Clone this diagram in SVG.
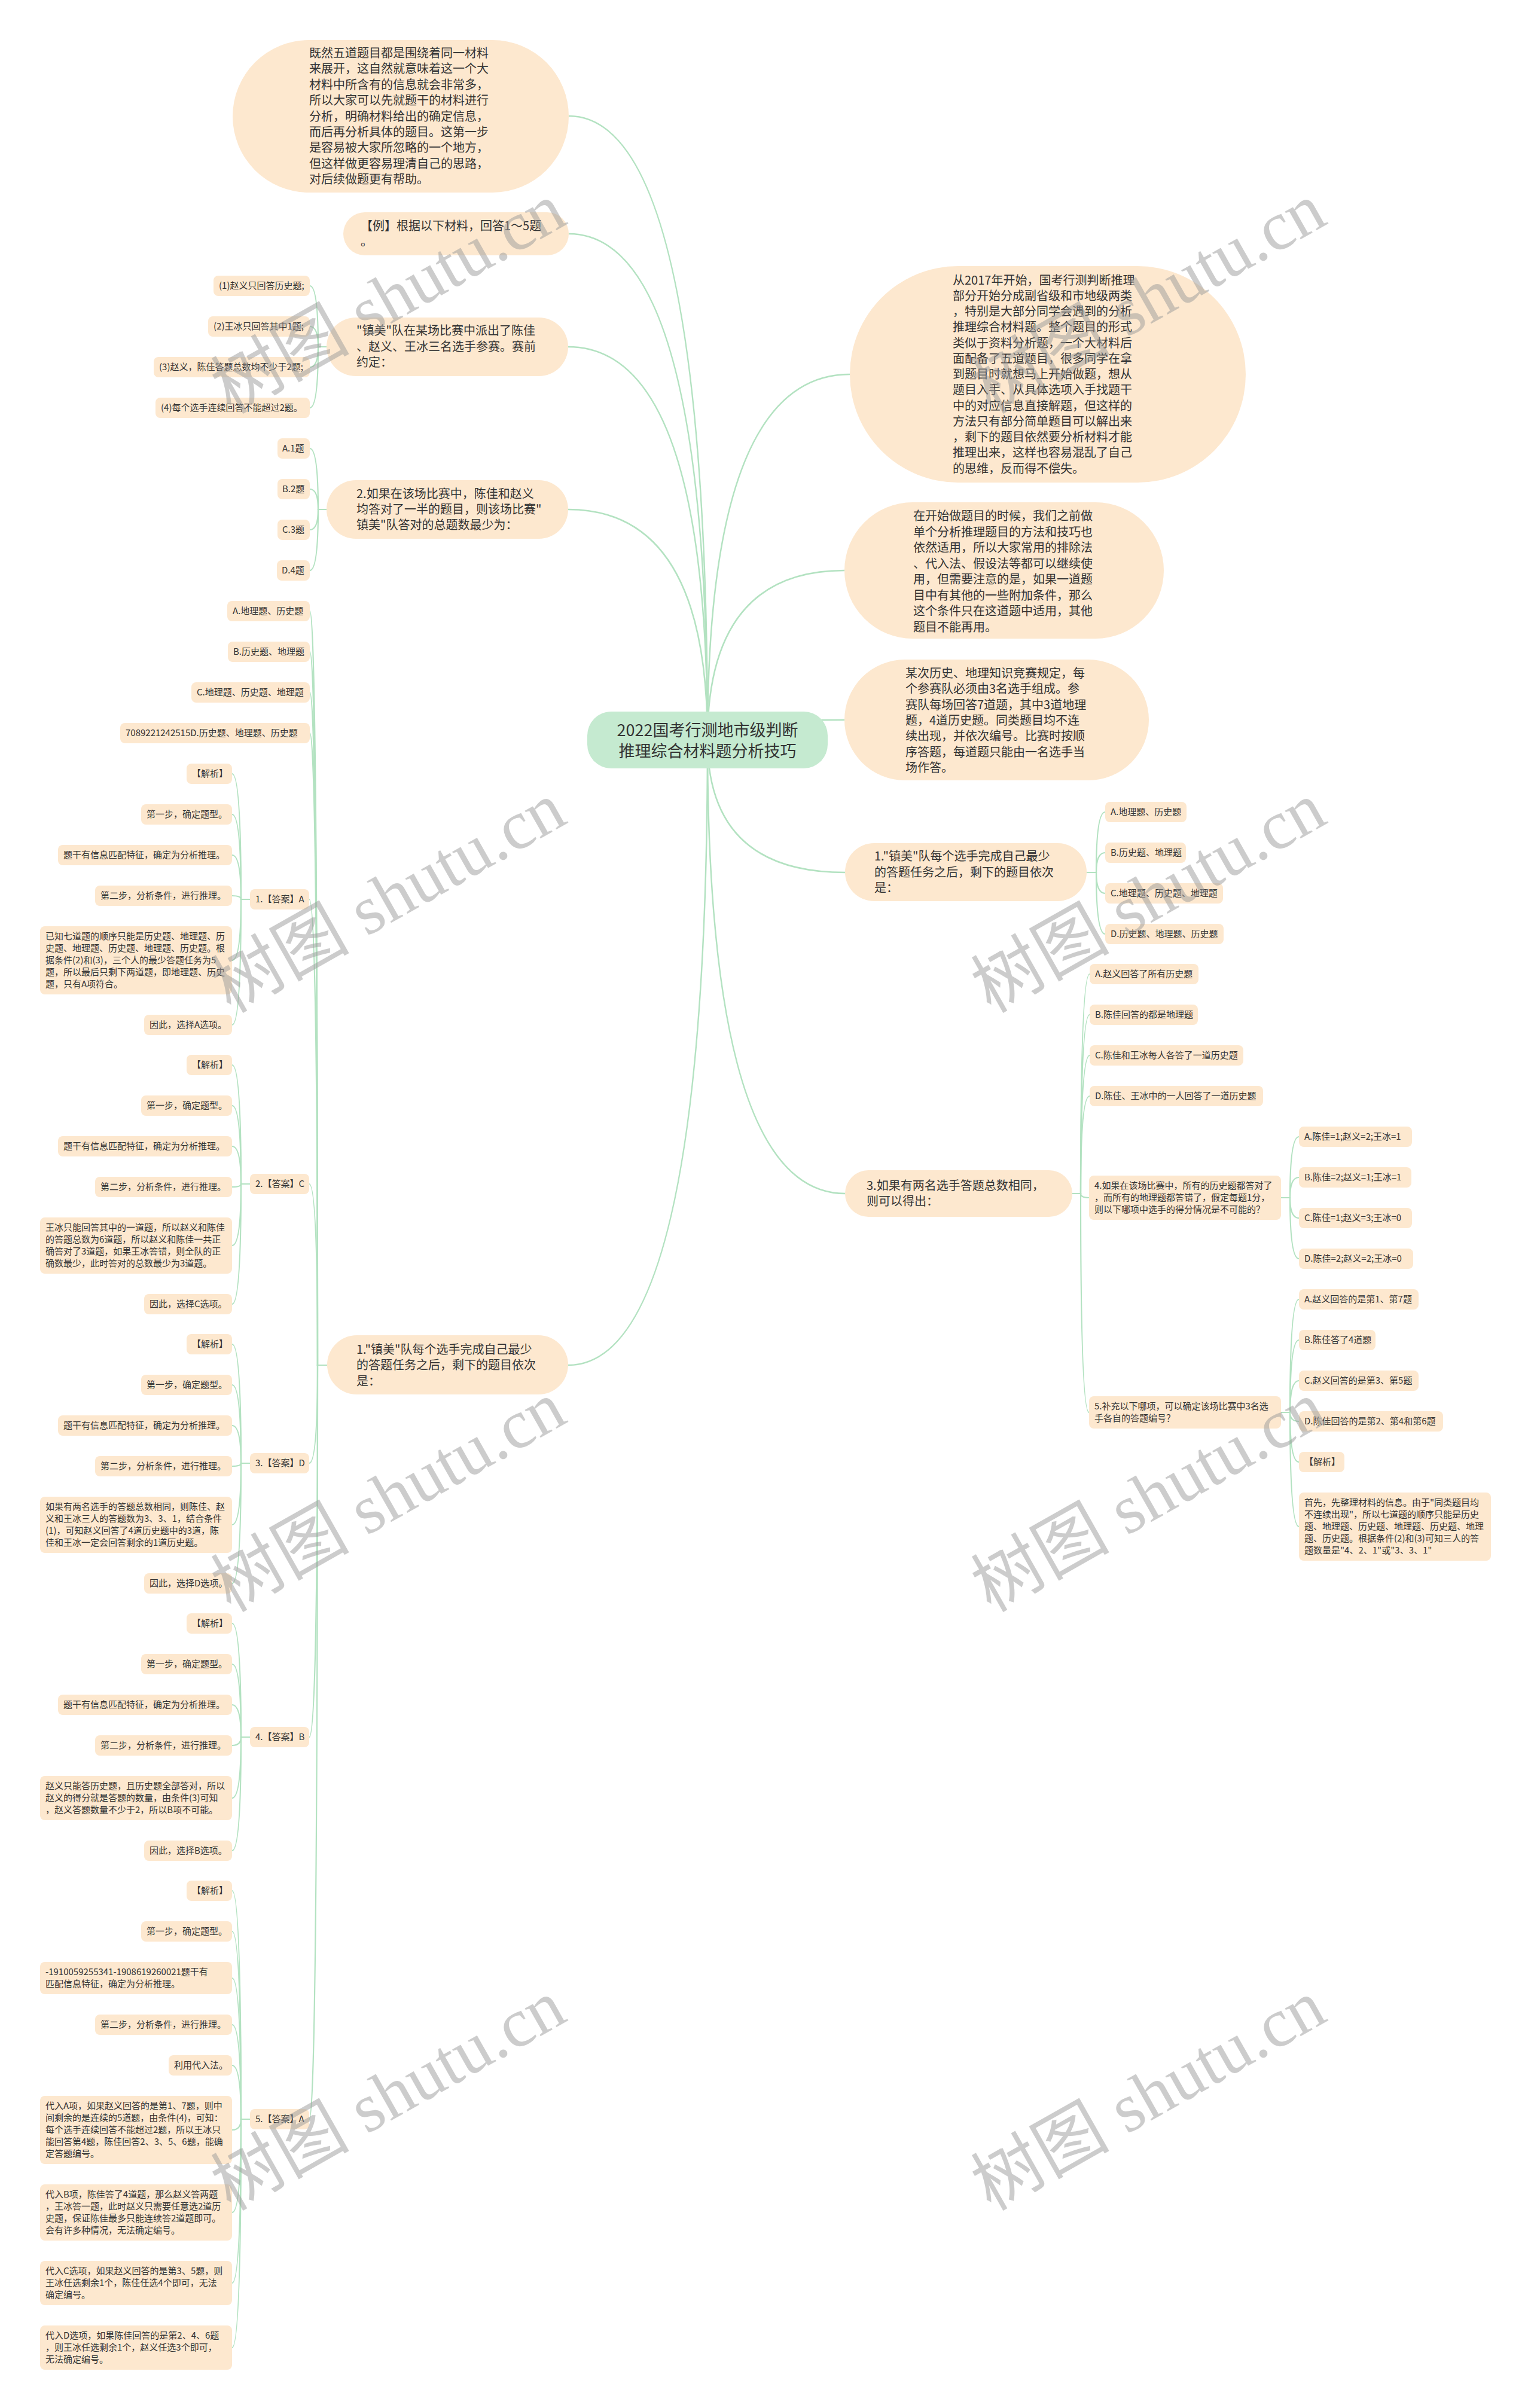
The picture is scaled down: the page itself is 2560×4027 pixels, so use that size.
<svg xmlns="http://www.w3.org/2000/svg" width="2560" height="4027" viewBox="0 0 2560 4027">
<style>
.ln{fill:none;stroke:#b3e2c1;stroke-width:2.2}
.ln0{fill:none;stroke:#b3e2c1;stroke-width:2.5}
.n1{fill:#fde8cf}
.lf{fill:#fde8cf}
.ct{fill:#c5ead0}
text{font-family:"Noto Sans CJK SC","Noto Sans",sans-serif;fill:#333333}
.t0{font-size:27px}
.t1{font-size:20px}
.t2{font-size:15px}
.wm{font-family:"Liberation Serif","Noto Sans CJK SC",serif;font-size:116px;fill:#9a9a9a;fill-opacity:0.5}
</style>
<rect x="0" y="0" width="2560" height="4027" fill="#ffffff"/>

<g id="connectors">
<path class="ln0" d="M1183,1237 Q1183,194 951,194"/>
<path class="ln0" d="M1183,1237 Q1183,391 951,391"/>
<path class="ln0" d="M1183,1237 Q1183,580 950,580"/>
<path class="ln0" d="M1183,1237 Q1183,852 950,852"/>
<path class="ln0" d="M1183,1237 Q1183,2283 950,2283"/>
<path class="ln0" d="M1183,1237 Q1183,626 1421,626"/>
<path class="ln0" d="M1183,1237 Q1183,954 1412,954"/>
<path class="ln0" d="M1183,1237 Q1183,1204 1412,1204"/>
<path class="ln0" d="M1183,1237 Q1183,1459 1413,1459"/>
<path class="ln0" d="M1183,1237 Q1183,1996 1413,1996"/>
<path class="ln" d="M546,580 H532 Q532,478 518,478"/>
<path class="ln" d="M546,580 H532 Q532,546 518,546"/>
<path class="ln" d="M546,580 H532 Q532,614 518,614"/>
<path class="ln" d="M546,580 H532 Q532,682 518,682"/>
<path class="ln" d="M546,852 H532 Q532,750 518,750"/>
<path class="ln" d="M546,852 H532 Q532,818 518,818"/>
<path class="ln" d="M546,852 H532 Q532,886 518,886"/>
<path class="ln" d="M546,852 H532 Q532,954 518,954"/>
<path class="ln" d="M547,2283 H531 Q531,1022 518,1022"/>
<path class="ln" d="M547,2283 H531 Q531,1090 518,1090"/>
<path class="ln" d="M547,2283 H531 Q531,1158 518,1158"/>
<path class="ln" d="M547,2283 H531 Q531,1226 518,1226"/>
<path class="ln" d="M547,2283 H531 Q531,1504 517,1504"/>
<path class="ln" d="M547,2283 H531 Q531,1980 517,1980"/>
<path class="ln" d="M547,2283 H531 Q531,2447 517,2447"/>
<path class="ln" d="M547,2283 H531 Q531,2905 517,2905"/>
<path class="ln" d="M547,2283 H531 Q531,3544 517,3544"/>
<path class="ln" d="M418,1504 H403 Q403,1294 388,1294"/>
<path class="ln" d="M418,1504 H403 Q403,1362 388,1362"/>
<path class="ln" d="M418,1504 H403 Q403,1430 388,1430"/>
<path class="ln" d="M418,1504 H403 Q403,1498 388,1498"/>
<path class="ln" d="M418,1504 H403 Q403,1606 388,1606"/>
<path class="ln" d="M418,1504 H403 Q403,1714 388,1714"/>
<path class="ln" d="M418,1980 H403 Q403,1781 388,1781"/>
<path class="ln" d="M418,1980 H403 Q403,1849 388,1849"/>
<path class="ln" d="M418,1980 H403 Q403,1917 388,1917"/>
<path class="ln" d="M418,1980 H403 Q403,1985 388,1985"/>
<path class="ln" d="M418,1980 H403 Q403,2083 388,2083"/>
<path class="ln" d="M418,1980 H403 Q403,2181 388,2181"/>
<path class="ln" d="M418,2447 H403 Q403,2248 388,2248"/>
<path class="ln" d="M418,2447 H403 Q403,2316 388,2316"/>
<path class="ln" d="M418,2447 H403 Q403,2384 388,2384"/>
<path class="ln" d="M418,2447 H403 Q403,2452 388,2452"/>
<path class="ln" d="M418,2447 H403 Q403,2550 388,2550"/>
<path class="ln" d="M418,2447 H403 Q403,2648 388,2648"/>
<path class="ln" d="M418,2905 H403 Q403,2715 388,2715"/>
<path class="ln" d="M418,2905 H403 Q403,2783 388,2783"/>
<path class="ln" d="M418,2905 H403 Q403,2851 388,2851"/>
<path class="ln" d="M418,2905 H403 Q403,2919 388,2919"/>
<path class="ln" d="M418,2905 H403 Q403,3007 388,3007"/>
<path class="ln" d="M418,2905 H403 Q403,3095 388,3095"/>
<path class="ln" d="M418,3544 H403 Q403,3162 388,3162"/>
<path class="ln" d="M418,3544 H403 Q403,3230 388,3230"/>
<path class="ln" d="M418,3544 H403 Q403,3308 388,3308"/>
<path class="ln" d="M418,3544 H403 Q403,3386 388,3386"/>
<path class="ln" d="M418,3544 H403 Q403,3454 388,3454"/>
<path class="ln" d="M418,3544 H403 Q403,3562 388,3562"/>
<path class="ln" d="M418,3544 H403 Q403,3700 388,3700"/>
<path class="ln" d="M418,3544 H403 Q403,3818 388,3818"/>
<path class="ln" d="M418,3544 H403 Q403,3926 388,3926"/>
<path class="ln" d="M1817,1459 H1833 Q1833,1358 1848,1358"/>
<path class="ln" d="M1817,1459 H1833 Q1833,1426 1848,1426"/>
<path class="ln" d="M1817,1459 H1833 Q1833,1494 1848,1494"/>
<path class="ln" d="M1817,1459 H1833 Q1833,1562 1848,1562"/>
<path class="ln" d="M1793,1996 H1807 Q1807,1629 1822,1629"/>
<path class="ln" d="M1793,1996 H1807 Q1807,1697 1822,1697"/>
<path class="ln" d="M1793,1996 H1807 Q1807,1765 1822,1765"/>
<path class="ln" d="M1793,1996 H1807 Q1807,1833 1822,1833"/>
<path class="ln" d="M1793,1996 H1807 Q1807,2003 1821,2003"/>
<path class="ln" d="M1793,1996 H1807 Q1807,2362 1821,2362"/>
<path class="ln" d="M2142,2003 H2157 Q2157,1901 2172,1901"/>
<path class="ln" d="M2142,2003 H2157 Q2157,1969 2172,1969"/>
<path class="ln" d="M2142,2003 H2157 Q2157,2037 2172,2037"/>
<path class="ln" d="M2142,2003 H2157 Q2157,2105 2172,2105"/>
<path class="ln" d="M2142,2362 H2157 Q2157,2173 2172,2173"/>
<path class="ln" d="M2142,2362 H2157 Q2157,2241 2172,2241"/>
<path class="ln" d="M2142,2362 H2157 Q2157,2309 2172,2309"/>
<path class="ln" d="M2142,2362 H2157 Q2157,2377 2172,2377"/>
<path class="ln" d="M2142,2362 H2157 Q2157,2445 2172,2445"/>
<path class="ln" d="M2142,2362 H2157 Q2157,2553 2172,2553"/>
</g>

<g id="root">
<rect class="ct" x="982" y="1190" width="402" height="95" rx="40"/>
<text class="t0" x="1183" y="1231" text-anchor="middle">2022国考行测地市级判断</text>
<text class="t0" x="1183" y="1266" text-anchor="middle">推理综合材料题分析技巧</text>
</g>

<g id="n-note">
<rect class="n1" x="389" y="67" width="562" height="255" rx="127.5"/>
<text class="t1"><tspan x="517" y="96">既然五道题目都是围绕着同一材料</tspan><tspan x="517" y="122.4">来展开，这自然就意味着这一个大</tspan><tspan x="517" y="148.8">材料中所含有的信息就会非常多，</tspan><tspan x="517" y="175.2">所以大家可以先就题干的材料进行</tspan><tspan x="517" y="201.6">分析，明确材料给出的确定信息，</tspan><tspan x="517" y="228">而后再分析具体的题目。这第一步</tspan><tspan x="517" y="254.4">是容易被大家所忽略的一个地方，</tspan><tspan x="517" y="280.8">但这样做更容易理清自己的思路，</tspan><tspan x="517" y="307.2">对后续做题更有帮助。</tspan></text>
</g>

<g id="n-example">
<rect class="n1" x="574" y="355" width="377" height="72" rx="36"/>
<text class="t1"><tspan x="603" y="385">【例】根据以下材料，回答1～5题</tspan><tspan x="603" y="411">。</tspan></text>
</g>

<g id="n-rules">
<rect class="n1" x="546" y="531" width="404" height="98" rx="49"/>
<text class="t1"><tspan x="596" y="560">"镇美"队在某场比赛中派出了陈佳</tspan><tspan x="596" y="587">、赵义、王冰三名选手参赛。赛前</tspan><tspan x="596" y="613">约定：</tspan></text>
</g>
<g id="n-rule1"><rect class="lf" x="357" y="461" width="161" height="34" rx="8"/><text class="t2" x="366" y="483">(1)赵义只回答历史题;</text></g>
<g id="n-rule2"><rect class="lf" x="348" y="529" width="170" height="34" rx="8"/><text class="t2" x="357" y="551">(2)王冰只回答其中1题;</text></g>
<g id="n-rule3"><rect class="lf" x="257" y="597" width="261" height="34" rx="8"/><text class="t2" x="266" y="619">(3)赵义，陈佳答题总数均不少于2题;</text></g>
<g id="n-rule4"><rect class="lf" x="260" y="665" width="258" height="34" rx="8"/><text class="t2" x="269" y="687">(4)每个选手连续回答不能超过2题。</text></g>

<g id="n-q2">
<rect class="n1" x="546" y="803" width="404" height="98" rx="49"/>
<text class="t1"><tspan x="596" y="833">2.如果在该场比赛中，陈佳和赵义</tspan><tspan x="596" y="859">均答对了一半的题目，则该场比赛"</tspan><tspan x="596" y="885">镇美"队答对的总题数最少为：</tspan></text>
</g>
<g id="n-q2a"><rect class="lf" x="464" y="733" width="54" height="34" rx="8"/><text class="t2" x="472" y="755">A.1题</text></g>
<g id="n-q2b"><rect class="lf" x="464" y="801" width="54" height="34" rx="8"/><text class="t2" x="472" y="823">B.2题</text></g>
<g id="n-q2c"><rect class="lf" x="464" y="869" width="54" height="34" rx="8"/><text class="t2" x="472" y="891">C.3题</text></g>
<g id="n-q2d"><rect class="lf" x="463" y="937" width="55" height="34" rx="8"/><text class="t2" x="471" y="959">D.4题</text></g>

<g id="n-q1l">
<rect class="n1" x="547" y="2233" width="403" height="99" rx="49.5"/>
<text class="t1"><tspan x="596" y="2264">1."镇美"队每个选手完成自己最少</tspan><tspan x="596" y="2290">的答题任务之后，剩下的题目依次</tspan><tspan x="596" y="2317">是：</tspan></text>
</g>
<g id="n-q1la"><rect class="lf" x="380" y="1005" width="138" height="34" rx="8"/><text class="t2" x="389" y="1027">A.地理题、历史题</text></g>
<g id="n-q1lb"><rect class="lf" x="381" y="1073" width="137" height="34" rx="8"/><text class="t2" x="390" y="1095">B.历史题、地理题</text></g>
<g id="n-q1lc"><rect class="lf" x="320" y="1141" width="198" height="34" rx="8"/><text class="t2" x="329" y="1163">C.地理题、历史题、地理题</text></g>
<g id="n-q1ld"><rect class="lf" x="201" y="1209" width="317" height="34" rx="8"/><text class="t2" x="210" y="1231">7089221242515D.历史题、地理题、历史题</text></g>

<g id="n-ans1"><rect class="lf" x="418" y="1487" width="99" height="34" rx="8"/><text class="t2" x="427" y="1509">1.【答案】A</text></g>
<g id="n-a1-1"><rect class="lf" x="312" y="1277" width="76" height="34" rx="8"/><text class="t2" x="321" y="1299">【解析】</text></g>
<g id="n-a1-2"><rect class="lf" x="236" y="1345" width="152" height="34" rx="8"/><text class="t2" x="245" y="1367">第一步，确定题型。</text></g>
<g id="n-a1-3"><rect class="lf" x="97" y="1413" width="291" height="34" rx="8"/><text class="t2" x="106" y="1435">题干有信息匹配特征，确定为分析推理。</text></g>
<g id="n-a1-4"><rect class="lf" x="159" y="1481" width="229" height="34" rx="8"/><text class="t2" x="168" y="1503">第二步，分析条件，进行推理。</text></g>
<g id="n-a1-5"><rect class="lf" x="67" y="1549" width="321" height="114" rx="8"/><text class="t2"><tspan x="76" y="1571">已知七道题的顺序只能是历史题、地理题、历</tspan><tspan x="76" y="1591">史题、地理题、历史题、地理题、历史题。根</tspan><tspan x="76" y="1611">据条件(2)和(3)，三个人的最少答题任务为5</tspan><tspan x="76" y="1631">题，所以最后只剩下两道题，即地理题、历史</tspan><tspan x="76" y="1651">题，只有A项符合。</tspan></text></g>
<g id="n-a1-6"><rect class="lf" x="241" y="1697" width="147" height="34" rx="8"/><text class="t2" x="250" y="1719">因此，选择A选项。</text></g>

<g id="n-ans2"><rect class="lf" x="418" y="1963" width="99" height="34" rx="8"/><text class="t2" x="427" y="1985">2.【答案】C</text></g>
<g id="n-a2-1"><rect class="lf" x="312" y="1764" width="76" height="34" rx="8"/><text class="t2" x="321" y="1786">【解析】</text></g>
<g id="n-a2-2"><rect class="lf" x="236" y="1832" width="152" height="34" rx="8"/><text class="t2" x="245" y="1854">第一步，确定题型。</text></g>
<g id="n-a2-3"><rect class="lf" x="97" y="1900" width="291" height="34" rx="8"/><text class="t2" x="106" y="1922">题干有信息匹配特征，确定为分析推理。</text></g>
<g id="n-a2-4"><rect class="lf" x="159" y="1968" width="229" height="34" rx="8"/><text class="t2" x="168" y="1990">第二步，分析条件，进行推理。</text></g>
<g id="n-a2-5"><rect class="lf" x="67" y="2036" width="321" height="94" rx="8"/><text class="t2"><tspan x="76" y="2058">王冰只能回答其中的一道题，所以赵义和陈佳</tspan><tspan x="76" y="2078">的答题总数为6道题，所以赵义和陈佳一共正</tspan><tspan x="76" y="2098">确答对了3道题，如果王冰答错，则全队的正</tspan><tspan x="76" y="2118">确数最少，此时答对的总数最少为3道题。</tspan></text></g>
<g id="n-a2-6"><rect class="lf" x="241" y="2164" width="147" height="34" rx="8"/><text class="t2" x="250" y="2186">因此，选择C选项。</text></g>

<g id="n-ans3"><rect class="lf" x="418" y="2430" width="99" height="34" rx="8"/><text class="t2" x="427" y="2452">3.【答案】D</text></g>
<g id="n-a3-1"><rect class="lf" x="312" y="2231" width="76" height="34" rx="8"/><text class="t2" x="321" y="2253">【解析】</text></g>
<g id="n-a3-2"><rect class="lf" x="236" y="2299" width="152" height="34" rx="8"/><text class="t2" x="245" y="2321">第一步，确定题型。</text></g>
<g id="n-a3-3"><rect class="lf" x="97" y="2367" width="291" height="34" rx="8"/><text class="t2" x="106" y="2389">题干有信息匹配特征，确定为分析推理。</text></g>
<g id="n-a3-4"><rect class="lf" x="159" y="2435" width="229" height="34" rx="8"/><text class="t2" x="168" y="2457">第二步，分析条件，进行推理。</text></g>
<g id="n-a3-5"><rect class="lf" x="67" y="2503" width="321" height="94" rx="8"/><text class="t2"><tspan x="76" y="2525">如果有两名选手的答题总数相同，则陈佳、赵</tspan><tspan x="76" y="2545">义和王冰三人的答题数为3、3、1，结合条件</tspan><tspan x="76" y="2565">(1)，可知赵义回答了4道历史题中的3道，陈</tspan><tspan x="76" y="2585">佳和王冰一定会回答剩余的1道历史题。</tspan></text></g>
<g id="n-a3-6"><rect class="lf" x="241" y="2631" width="147" height="34" rx="8"/><text class="t2" x="250" y="2653">因此，选择D选项。</text></g>

<g id="n-ans4"><rect class="lf" x="418" y="2888" width="99" height="34" rx="8"/><text class="t2" x="427" y="2910">4.【答案】B</text></g>
<g id="n-a4-1"><rect class="lf" x="312" y="2698" width="76" height="34" rx="8"/><text class="t2" x="321" y="2720">【解析】</text></g>
<g id="n-a4-2"><rect class="lf" x="236" y="2766" width="152" height="34" rx="8"/><text class="t2" x="245" y="2788">第一步，确定题型。</text></g>
<g id="n-a4-3"><rect class="lf" x="97" y="2834" width="291" height="34" rx="8"/><text class="t2" x="106" y="2856">题干有信息匹配特征，确定为分析推理。</text></g>
<g id="n-a4-4"><rect class="lf" x="159" y="2902" width="229" height="34" rx="8"/><text class="t2" x="168" y="2924">第二步，分析条件，进行推理。</text></g>
<g id="n-a4-5"><rect class="lf" x="67" y="2970" width="321" height="74" rx="8"/><text class="t2"><tspan x="76" y="2992">赵义只能答历史题，且历史题全部答对，所以</tspan><tspan x="76" y="3012">赵义的得分就是答题的数量，由条件(3)可知</tspan><tspan x="76" y="3032">，赵义答题数量不少于2，所以B项不可能。</tspan></text></g>
<g id="n-a4-6"><rect class="lf" x="241" y="3078" width="147" height="34" rx="8"/><text class="t2" x="250" y="3100">因此，选择B选项。</text></g>

<g id="n-ans5"><rect class="lf" x="418" y="3527" width="99" height="34" rx="8"/><text class="t2" x="427" y="3549">5.【答案】A</text></g>
<g id="n-a5-1"><rect class="lf" x="312" y="3145" width="76" height="34" rx="8"/><text class="t2" x="321" y="3167">【解析】</text></g>
<g id="n-a5-2"><rect class="lf" x="236" y="3213" width="152" height="34" rx="8"/><text class="t2" x="245" y="3235">第一步，确定题型。</text></g>
<g id="n-a5-3"><rect class="lf" x="67" y="3281" width="321" height="54" rx="8"/><text class="t2"><tspan x="76" y="3303">-1910059255341-1908619260021题干有</tspan><tspan x="76" y="3323">匹配信息特征，确定为分析推理。</tspan></text></g>
<g id="n-a5-4"><rect class="lf" x="159" y="3369" width="229" height="34" rx="8"/><text class="t2" x="168" y="3391">第二步，分析条件，进行推理。</text></g>
<g id="n-a5-5"><rect class="lf" x="282" y="3437" width="106" height="34" rx="8"/><text class="t2" x="291" y="3459">利用代入法。</text></g>
<g id="n-a5-6"><rect class="lf" x="67" y="3505" width="321" height="114" rx="8"/><text class="t2"><tspan x="76" y="3527">代入A项，如果赵义回答的是第1、7题，则中</tspan><tspan x="76" y="3547">间剩余的是连续的5道题，由条件(4)，可知：</tspan><tspan x="76" y="3567">每个选手连续回答不能超过2题，所以王冰只</tspan><tspan x="76" y="3587">能回答第4题，陈佳回答2、3、5、6题，能确</tspan><tspan x="76" y="3607">定答题编号。</tspan></text></g>
<g id="n-a5-7"><rect class="lf" x="67" y="3653" width="321" height="94" rx="8"/><text class="t2"><tspan x="76" y="3675">代入B项，陈佳答了4道题，那么赵义答两题</tspan><tspan x="76" y="3695">，王冰答一题，此时赵义只需要任意选2道历</tspan><tspan x="76" y="3715">史题，保证陈佳最多只能连续答2道题即可。</tspan><tspan x="76" y="3735">会有许多种情况，无法确定编号。</tspan></text></g>
<g id="n-a5-8"><rect class="lf" x="67" y="3781" width="321" height="74" rx="8"/><text class="t2"><tspan x="76" y="3803">代入C选项，如果赵义回答的是第3、5题，则</tspan><tspan x="76" y="3823">王冰任选剩余1个，陈佳任选4个即可，无法</tspan><tspan x="76" y="3843">确定编号。</tspan></text></g>
<g id="n-a5-9"><rect class="lf" x="67" y="3889" width="321" height="74" rx="8"/><text class="t2"><tspan x="76" y="3911">代入D选项，如果陈佳回答的是第2、4、6题</tspan><tspan x="76" y="3931">，则王冰任选剩余1个，赵义任选3个即可，</tspan><tspan x="76" y="3951">无法确定编号。</tspan></text></g>

<g id="n-p1">
<rect class="n1" x="1421" y="445" width="662" height="362" rx="181"/>
<text class="t1"><tspan x="1593" y="475.5">从2017年开始，国考行测判断推理</tspan><tspan x="1593" y="501.8">部分开始分成副省级和市地级两类</tspan><tspan x="1593" y="528">，特别是大部分同学会遇到的分析</tspan><tspan x="1593" y="554.3">推理综合材料题。整个题目的形式</tspan><tspan x="1593" y="580.5">类似于资料分析题，一个大材料后</tspan><tspan x="1593" y="606.8">面配备了五道题目，很多同学在拿</tspan><tspan x="1593" y="633">到题目时就想马上开始做题，想从</tspan><tspan x="1593" y="659.3">题目入手、从具体选项入手找题干</tspan><tspan x="1593" y="685.5">中的对应信息直接解题，但这样的</tspan><tspan x="1593" y="711.8">方法只有部分简单题目可以解出来</tspan><tspan x="1593" y="738">，剩下的题目依然要分析材料才能</tspan><tspan x="1593" y="764.3">推理出来，这样也容易混乱了自己</tspan><tspan x="1593" y="790.5">的思维，反而得不偿失。</tspan></text>
</g>

<g id="n-p2">
<rect class="n1" x="1412" y="840" width="534" height="228" rx="114"/>
<text class="t1"><tspan x="1527" y="870.3">在开始做题目的时候，我们之前做</tspan><tspan x="1527" y="896.8">单个分析推理题目的方法和技巧也</tspan><tspan x="1527" y="923.3">依然适用，所以大家常用的排除法</tspan><tspan x="1527" y="949.8">、代入法、假设法等都可以继续使</tspan><tspan x="1527" y="976.3">用，但需要注意的是，如果一道题</tspan><tspan x="1527" y="1002.8">目中有其他的一些附加条件，那么</tspan><tspan x="1527" y="1029.3">这个条件只在这道题中适用，其他</tspan><tspan x="1527" y="1055.8">题目不能再用。</tspan></text>
</g>

<g id="n-p3">
<rect class="n1" x="1412" y="1103" width="509" height="202" rx="101"/>
<text class="t1"><tspan x="1514" y="1132.8">某次历史、地理知识竞赛规定，每</tspan><tspan x="1514" y="1159.2">个参赛队必须由3名选手组成。参</tspan><tspan x="1514" y="1185.6">赛队每场回答7道题，其中3道地理</tspan><tspan x="1514" y="1212">题，4道历史题。同类题目均不连</tspan><tspan x="1514" y="1238.4">续出现，并依次编号。比赛时按顺</tspan><tspan x="1514" y="1264.8">序答题，每道题只能由一名选手当</tspan><tspan x="1514" y="1291.2">场作答。</tspan></text>
</g>

<g id="n-q1r">
<rect class="n1" x="1413" y="1410" width="404" height="97" rx="48.5"/>
<text class="t1"><tspan x="1462" y="1439">1."镇美"队每个选手完成自己最少</tspan><tspan x="1462" y="1466">的答题任务之后，剩下的题目依次</tspan><tspan x="1462" y="1492">是：</tspan></text>
</g>
<g id="n-q1ra"><rect class="lf" x="1848" y="1341" width="136" height="34" rx="8"/><text class="t2" x="1857" y="1363">A.地理题、历史题</text></g>
<g id="n-q1rb"><rect class="lf" x="1848" y="1409" width="135" height="34" rx="8"/><text class="t2" x="1857" y="1431">B.历史题、地理题</text></g>
<g id="n-q1rc"><rect class="lf" x="1848" y="1477" width="197" height="34" rx="8"/><text class="t2" x="1857" y="1499">C.地理题、历史题、地理题</text></g>
<g id="n-q1rd"><rect class="lf" x="1848" y="1545" width="198" height="34" rx="8"/><text class="t2" x="1857" y="1567">D.历史题、地理题、历史题</text></g>

<g id="n-q3">
<rect class="n1" x="1413" y="1957" width="380" height="78" rx="39"/>
<text class="t1"><tspan x="1449" y="1990">3.如果有两名选手答题总数相同，</tspan><tspan x="1449" y="2016">则可以得出：</tspan></text>
</g>
<g id="n-q3a"><rect class="lf" x="1822" y="1612" width="182" height="34" rx="8"/><text class="t2" x="1831" y="1634">A.赵义回答了所有历史题</text></g>
<g id="n-q3b"><rect class="lf" x="1822" y="1680" width="181" height="34" rx="8"/><text class="t2" x="1831" y="1702">B.陈佳回答的都是地理题</text></g>
<g id="n-q3c"><rect class="lf" x="1822" y="1748" width="257" height="34" rx="8"/><text class="t2" x="1831" y="1770">C.陈佳和王冰每人各答了一道历史题</text></g>
<g id="n-q3d"><rect class="lf" x="1822" y="1816" width="290" height="34" rx="8"/><text class="t2" x="1831" y="1838">D.陈佳、王冰中的一人回答了一道历史题</text></g>

<g id="n-q4">
<rect class="lf" x="1821" y="1966" width="321" height="74" rx="8"/>
<text class="t2"><tspan x="1830" y="1988">4.如果在该场比赛中，所有的历史题都答对了</tspan><tspan x="1830" y="2008">，而所有的地理题都答错了，假定每题1分，</tspan><tspan x="1830" y="2028">则以下哪项中选手的得分情况是不可能的？</tspan></text>
</g>
<g id="n-q4a"><rect class="lf" x="2172" y="1884" width="189" height="34" rx="8"/><text class="t2" x="2181" y="1906">A.陈佳=1;赵义=2;王冰=1</text></g>
<g id="n-q4b"><rect class="lf" x="2172" y="1952" width="188" height="34" rx="8"/><text class="t2" x="2181" y="1974">B.陈佳=2;赵义=1;王冰=1</text></g>
<g id="n-q4c"><rect class="lf" x="2172" y="2020" width="189" height="34" rx="8"/><text class="t2" x="2181" y="2042">C.陈佳=1;赵义=3;王冰=0</text></g>
<g id="n-q4d"><rect class="lf" x="2172" y="2088" width="191" height="34" rx="8"/><text class="t2" x="2181" y="2110">D.陈佳=2;赵义=2;王冰=0</text></g>

<g id="n-q5">
<rect class="lf" x="1821" y="2335" width="321" height="54" rx="8"/>
<text class="t2"><tspan x="1830" y="2357">5.补充以下哪项，可以确定该场比赛中3名选</tspan><tspan x="1830" y="2377">手各自的答题编号？</tspan></text>
</g>
<g id="n-q5a"><rect class="lf" x="2172" y="2156" width="200" height="34" rx="8"/><text class="t2" x="2181" y="2178">A.赵义回答的是第1、第7题</text></g>
<g id="n-q5b"><rect class="lf" x="2172" y="2224" width="128" height="34" rx="8"/><text class="t2" x="2181" y="2246">B.陈佳答了4道题</text></g>
<g id="n-q5c"><rect class="lf" x="2172" y="2292" width="200" height="34" rx="8"/><text class="t2" x="2181" y="2314">C.赵义回答的是第3、第5题</text></g>
<g id="n-q5d"><rect class="lf" x="2172" y="2360" width="241" height="34" rx="8"/><text class="t2" x="2181" y="2382">D.陈佳回答的是第2、第4和第6题</text></g>
<g id="n-q5e"><rect class="lf" x="2172" y="2428" width="76" height="34" rx="8"/><text class="t2" x="2181" y="2450">【解析】</text></g>
<g id="n-q5f"><rect class="lf" x="2172" y="2496" width="321" height="114" rx="8"/><text class="t2"><tspan x="2181" y="2518">首先，先整理材料的信息。由于"同类题目均</tspan><tspan x="2181" y="2538">不连续出现"，所以七道题的顺序只能是历史</tspan><tspan x="2181" y="2558">题、地理题、历史题、地理题、历史题、地理</tspan><tspan x="2181" y="2578">题、历史题。根据条件(2)和(3)可知三人的答</tspan><tspan x="2181" y="2598">题数量是"4、2、1"或"3、3、1"</tspan></text></g>

<g id="watermark">
<text class="wm" transform="translate(650,500) rotate(-29.5)" x="0" y="38" text-anchor="middle">树图 shutu.cn</text>
<text class="wm" transform="translate(1921,500) rotate(-29.5)" x="0" y="38" text-anchor="middle">树图 shutu.cn</text>
<text class="wm" transform="translate(650,1502) rotate(-29.5)" x="0" y="38" text-anchor="middle">树图 shutu.cn</text>
<text class="wm" transform="translate(1921,1502) rotate(-29.5)" x="0" y="38" text-anchor="middle">树图 shutu.cn</text>
<text class="wm" transform="translate(650,2504) rotate(-29.5)" x="0" y="38" text-anchor="middle">树图 shutu.cn</text>
<text class="wm" transform="translate(1921,2504) rotate(-29.5)" x="0" y="38" text-anchor="middle">树图 shutu.cn</text>
<text class="wm" transform="translate(650,3505) rotate(-29.5)" x="0" y="38" text-anchor="middle">树图 shutu.cn</text>
<text class="wm" transform="translate(1921,3505) rotate(-29.5)" x="0" y="38" text-anchor="middle">树图 shutu.cn</text>
</g>
</svg>
